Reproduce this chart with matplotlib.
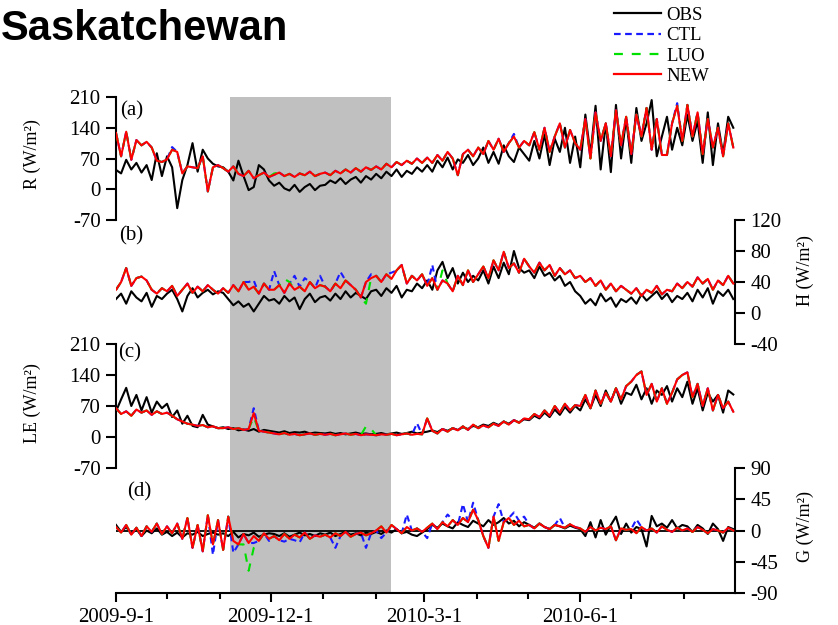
import matplotlib
matplotlib.use('Agg')
import matplotlib.pyplot as plt
import matplotlib.dates as mdates
from matplotlib.lines import Line2D
import pandas as pd

plt.rcParams['font.family'] = ['Liberation Serif', 'DejaVu Serif']
plt.rcParams['axes.unicode_minus'] = False

# ─────────────────────────────────────────────
# data: one value every 3 days, 2009-9-1 .. 2010-8-30 (122 values)
# ─────────────────────────────────────────────
START_DATE = '2009-09-01'
STEP = '3D'

# (a) net radiation R
OBS_R = [44, 36, 67, 45, 60, 38, 55, 21, 82, 30,
         75, 50, -43, 21, 55, 105, 40, 90, 70, 58, 52,
         50, 40, 20, 65, 30, -2, 5, 55, 45, 20,
         8, 15, 2, -3, 10, -6, 5, 12, -2, 8,
         10, 20, 14, 25, 12, 22, 28, 15, 30, 22,
         35, 25, 40, 30, 45, 28, 42, 35, 50, 40,
         55, 40, 65, 50, 72, 45, 68, 60, 78, 55,
         70, 95, 60, 85, 58, 100, 75, 62, 95, 80,
         65, 110, 70, 125, 55, 115, 85, 140, 60, 120,
         50, 170, 80, 190, 45, 150, 39, 192, 70, 160,
         60, 185, 110, 150, 203, 75, 120, 165, 90, 140, 100,
         170, 110, 155, 60, 175, 55, 150, 80, 165, 140]
NEW_R = [128, 75, 131, 67, 112, 100, 108, 95, 65, 62,
         68, 90, 85, 36, 52, 50, 48, 75, -5, 50, 55,
         48, 40, 52, 35, 30, 42, 25, 32, 38, 28,
         33, 38, 30, 35, 28, 36, 32, 40, 30, 35,
         38, 32, 42, 36, 45, 38, 48, 40, 50, 44,
         52, 45, 58, 50, 62, 55, 65, 58, 70, 60,
         72, 60, 78, 65, 85, 70, 32, 80, 90, 75,
         95, 80, 110, 90, 115, 85, 105, 120, 95, 110,
         100, 130, 90, 140, 85, 120, 150, 95, 135, 105,
         90, 160, 70, 175, 110, 150, 75, 180, 100, 165,
         80, 170, 120, 185, 90, 160, 78, 78, 150, 190, 110,
         192, 120, 175, 80, 160, 95, 140, 75, 150, 95]
CTL_R_EDITS = {33: 96, 234: 126, 330: 196}
LUO_R_EDITS = {93: 36}

# (b) sensible heat H
OBS_H = [18, 25, 12, 28, 20, 15, 26, 8, 22, 18,
         25, 30, 18, 2, 22, 32, 20, 26, 30, 24, 28,
         26, 18, 10, 15, 8, 12, 2, 12, 22, 16,
         18, 12, 22, 15, 20, 5, 18, 25, 14, 20,
         22, 16, 25, 18, 28, 20, 26, 22, 18, 28,
         30, 22, 32, 26, 35, 20, 30, 28, 38, 32,
         42, 30, 55, 66, 45, 58, 38, 52, 40, 48,
         42, 55, 38, 60, 45, 65, 50, 80, 58, 52,
         55, 45, 60, 48, 52, 42, 48, 35, 40, 28,
         22, 12, 18, 10, 25, 15, 20, 8, 18, 14,
         20, 12, 24, 16, 22, 28, 18, 25, 14, 22, 18,
         26, 15, 30, 20, 32, 12, 28, 22, 30, 18]
NEW_H = [30, 40, 58, 35, 45, 47, 42, 30, 25, 32,
         28, 35, 22, 30, 38, 26, 34, 28, 36, 30, 25,
         32, 26, 36, 28, 40, 30, 34, 25, 38, 30,
         30, 36, 26, 38, 30, 34, 28, 40, 32, 36,
         34, 28, 38, 32, 42, 36, 30, 20, 40, 45,
         48, 40, 50, 44, 55, 62, 38, 48, 42, 50,
         35, 45, 30, 42, 38, 28, 48, 36, 55, 40,
         50, 60, 45, 68, 55, 79, 58, 64, 52, 70,
         60, 52, 65, 55, 62, 48, 58, 50, 55, 45,
         48, 40, 45, 35, 42, 30, 38, 28, 35, 30,
         25, 32, 22, 30, 26, 35, 24, 30, 28, 38, 32,
         40, 34, 46, 38, 44, 30, 42, 36, 48, 38]
CTL_H_EDITS = {78: 40, 81: 42, 93: 54, 105: 48, 111: 45, 120: 48,
               132: 53, 150: 50, 162: 52, 186: 62}
LUO_H_EDITS = {99: 44, 102: 40, 147: 12, 192: 55}

# (c) latent heat LE
OBS_LE = [58, 85, 111, 70, 95, 60, 90, 55, 80, 65,
          75, 45, 60, 30, 48, 25, 22, 50, 28, 24, 20,
          22, 18, 20, 15, 17, 14, 18, 12, 16, 14,
          12, 10, 13, 9, 11, 10, 12, 8, 10, 9,
          8, 10, 7, 9, 6, 8, 10, 7, 8, 6,
          7, 9, 6, 8, 10, 7, 9, 12, 8, 10,
          12, 15, 11, 18, 14, 20, 16, 22, 18, 25,
          22, 28, 25, 32, 27, 35, 30, 38, 33, 40,
          38, 48, 42, 55, 45, 62, 50, 68, 55, 70,
          60, 85, 65, 95, 70, 105, 80, 110, 75, 100,
          95, 118, 85, 110, 75, 105, 95, 115, 80, 110, 90,
          125, 75, 110, 60, 100, 80, 95, 55, 105, 96]
NEW_LE = [65, 52, 58, 48, 62, 55, 60, 50, 58, 52,
          55, 48, 40, 35, 30, 28, 25, 27, 22, 24, 20,
          20, 22, 18, 20, 16, 18, 54, 14, 12, 10,
          8, 6, 9, 5, 7, 4, 6, 8, 5, 7,
          5, 7, 4, 6, 8, 5, 7, 4, 6, 5,
          4, 6, 5, 7, 4, 6, 8, 5, 7, 6,
          42, 14, 8, 18, 12, 20, 15, 24, 16, 28,
          20, 26, 22, 30, 25, 35, 28, 38, 32, 42,
          40, 52, 45, 60, 48, 70, 55, 75, 60, 72,
          70, 95, 65, 105, 75, 100, 80, 110, 85, 115,
          125, 140, 148, 95, 120, 80, 110, 75, 100, 130, 140,
          146, 90, 120, 70, 110, 60, 95, 65, 80, 57]
CTL_LE_EDITS = {81: 65, 177: 31, 189: 8}
LUO_LE_EDITS = {81: 45, 147: 24, 150: 18}

# (d) ground heat G
OBS_G = [8, -2, 5, -5, 2, -8, 0, -4, 3, -6,
         -2, -8, -3, -10, -4, -6, -2, -8, -5, -3, -6,
         -4, -8, -2, -10, -5, -7, -3, -9, -6, -4,
         -5, -8, -4, -9, -6, -3, -7, -5, -8, -4,
         -6, -3, -8, -5, -2, -6, -4, -7, -3, -5,
         -2, -5, 0, -3, 2, -4, -2, -6, -8, -3,
         2, 8, 4, 10, 6, 3, 12, 8, 5, 14,
         10, 6, 15, 8, 12, 18, 10, 14, 6, 12,
         8, 4, 10, 5, 2, 8, 6, 3, 7, 4,
         2, -8, 12, -10, 15, -6, 8, 20, -5, 10,
         -3, 5, 2, -23, 21, 6, 10, 4, 15, 3, 8,
         6, -2, 8, 3, -5, 10, 2, -15, 5, 2]
NEW_G = [5, -3, 8, -6, 4, -8, 6, -2, 10, -5,
         6, -4, 10, -12, 18, -25, 8, -30, 22, -20, 15,
         -28, 20, -15, -20, -5, -18, -8, -15, -4, -12,
         -8, -14, -5, -12, -6, -10, -3, -12, -7, -9,
         -6, -10, -4, -8, -2, -9, -5, -3, -7, -4,
         0, 6, -3, 8, 2, -4, 5, 0, 3, -2,
         4, 10, 2, 12, 6, 15, 8, 18, 12, 30,
         15, -8, -25, 20, -15, 12, 18, 8, 14, 6,
         8, 3, 10, 5, 2, 8, 6, 4, 9, 5,
         3, -2, 5, 0, 4, 2, 6, -14, 3, 1,
         2, -4, 5, 0, 3, -3, 6, 1, -2, 4, 0,
         3, -2, 5, 1, -4, 2, 0, -3, 4, 0]
CTL_G_EDITS = {57: -35, 69: -32, 81: -18, 90: -15, 99: -16, 105: -14, 108: -17,
               129: -25, 147: -25, 156: -11, 171: 23, 183: -11, 195: 23, 204: 38,
               210: 40, 225: 38, 234: 26, 240: 20, 261: 18, 306: 16}
LUO_G_EDITS = {75: -20, 78: -58, 81: -25}

SHADE_START, SHADE_END = '2009-11-07', '2010-02-10'
MAJOR_TICKS = ['2009-09-01', '2009-12-01', '2010-03-01', '2010-06-01']
X_LIMITS = ('2009-09-01', '2010-08-31')


def with_edits(base, edits):
    s = list(base)
    for day, v in edits.items():
        s[day // 3] = v
    return s


dates = pd.date_range(START_DATE, periods=len(OBS_R), freq=STEP)

panels = [
    # label, obs, new, ctl edits, luo edits, ylim, yticks, side, ylabel, label pos, ylabel y
    ('(a)', OBS_R, NEW_R, CTL_R_EDITS, LUO_R_EDITS, (-70, 210), [-70, 0, 70, 140, 210],
     'left', 'R (W/m²)', (0.006, 0.89), 0.54),
    ('(b)', OBS_H, NEW_H, CTL_H_EDITS, LUO_H_EDITS, (-40, 120), [-40, 0, 40, 80, 120],
     'right', 'H (W/m²)', (0.005, 0.87), 0.59),
    ('(c)', OBS_LE, NEW_LE, CTL_LE_EDITS, LUO_LE_EDITS, (-70, 210), [-70, 0, 70, 140, 210],
     'left', 'LE (W/m²)', (0.003, 0.93), 0.52),
    ('(d)', OBS_G, NEW_G, CTL_G_EDITS, LUO_G_EDITS, (-90, 90), [-90, -45, 0, 45, 90],
     'right', 'G (W/m²)', (0.018, 0.81), 0.53),
]

fig = plt.figure(figsize=(8.38, 6.25), dpi=100)
# panel bounds in pixels (top, bottom)
bounds = [(97, 220), (220, 344), (344, 468), (468, 593)]
left, width = 116 / 838, 619 / 838

C_OBS, C_CTL, C_LUO, C_NEW = 'black', '#1a1aff', '#00e000', '#ff0000'
LW = 1.5

axes = []
for i, (lab, obs, new, ctl_e, luo_e, ylim, yt, side, ylab, lpos, ylpos) in enumerate(panels):
    top, bot = bounds[i]
    ax = fig.add_axes([left, 1 - bot / 625, width, (bot - top) / 625])
    ax.set_facecolor('none')
    ax.axvspan(pd.Timestamp(SHADE_START), pd.Timestamp(SHADE_END),
               color='#c0c0c0', lw=0, zorder=0)
    if lab == '(d)':
        ax.axhline(0, color='black', lw=1.3, zorder=1)
    ax.plot(dates, obs, color=C_OBS, lw=LW, zorder=2)
    ax.plot(dates, with_edits(new, ctl_e), color=C_CTL, lw=LW, dashes=(3, 2), zorder=3)
    ax.plot(dates, with_edits(new, luo_e), color=C_LUO, lw=LW, dashes=(4, 4), zorder=4)
    ax.plot(dates, new, color=C_NEW, lw=LW, zorder=5)

    ax.set_xlim(pd.Timestamp(X_LIMITS[0]), pd.Timestamp(X_LIMITS[1]))
    ax.set_ylim(*ylim)
    ax.set_yticks(yt)
    for s in ax.spines.values():
        s.set_visible(False)
        s.set_linewidth(1.5)
    ax.spines[side].set_visible(True)
    if side == 'right':
        ax.yaxis.tick_right()
        ax.yaxis.set_label_position('right')
        ax.set_ylabel(ylab, fontsize=13, rotation=90)
        ax.yaxis.set_label_coords(1.099, ylpos)
    else:
        ax.set_ylabel(ylab, fontsize=13)
        ax.yaxis.set_label_coords(-0.121, ylpos)
    ax.tick_params(axis='y', direction='out', length=7, width=1.5, pad=4, labelsize=15)
    ax.text(lpos[0], lpos[1], lab, transform=ax.transAxes, fontsize=15,
            ha='left', va='center')
    if lab != '(d)':
        ax.tick_params(axis='x', bottom=False, labelbottom=False)
    axes.append(ax)

ax = axes[-1]
ax.spines['bottom'].set_visible(True)
ax.set_xticks([pd.Timestamp(t) for t in MAJOR_TICKS])
ax.xaxis.set_minor_locator(mdates.MonthLocator())
ax.xaxis.set_major_formatter(plt.FuncFormatter(
    lambda x, _: '{0.year}-{0.month}-{0.day}'.format(mdates.num2date(x))))
ax.tick_params(axis='x', which='major', direction='out', length=6.5, width=1.5,
               pad=4, labelsize=15)
ax.tick_params(axis='x', which='minor', direction='out', length=4, width=1.5)

fig.text(0.001, 0.936, 'Saskatchewan', fontsize=30, fontweight='bold',
         family=['Liberation Sans', 'DejaVu Sans'], ha='left', va='baseline')

handles = [
    Line2D([0], [0], color=C_OBS, lw=1.6),
    Line2D([0], [0], color=C_CTL, lw=1.6, dashes=(3, 2)),
    Line2D([0], [0], color=C_LUO, lw=1.6, dashes=(4, 4)),
    Line2D([0], [0], color=C_NEW, lw=1.6),
]
fig.legend(handles, ['OBS', 'CTL', 'LUO', 'NEW'], loc='upper left',
           bbox_to_anchor=(0.728, 0.995), frameon=False, fontsize=13.5,
           handlelength=2.5, handletextpad=0.3, labelspacing=0.17,
           borderaxespad=0, borderpad=0.2)

fig.savefig('out.png', dpi=100)
